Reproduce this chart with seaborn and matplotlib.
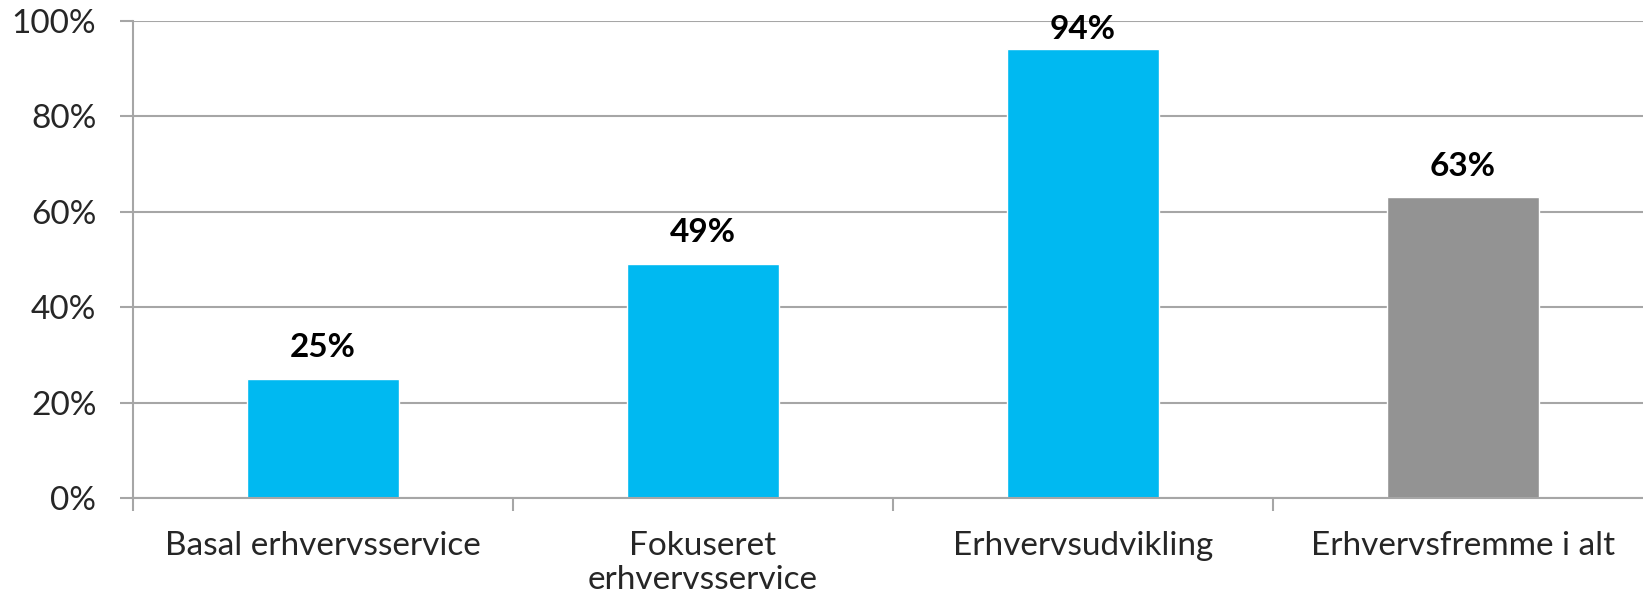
import numpy as np
import pandas as pd
import seaborn as sns
import matplotlib.pyplot as plt
from matplotlib.ticker import FixedLocator, PercentFormatter

sns.set_theme(style="white")
plt.rcParams["font.family"] = ["Lato", "DejaVu Sans"]

categories = ["Basal erhvervsservice", "Fokuseret\nerhvervsservice",
              "Erhvervsudvikling", "Erhvervsfremme i alt"]
shares = [0.25, 0.49, 0.94, 0.63]
bar_colors = ["#00B9F1", "#00B9F1", "#00B9F1", "#939393"]

df = pd.DataFrame({"category": categories, "share": shares})

fig = plt.figure(figsize=(16.43, 6.04), dpi=100)
ax = fig.add_axes([0.081, 0.1755, 0.925, 0.79])

sns.barplot(data=df, x="category", y="share", hue="category",
            palette=bar_colors, width=0.4, legend=False, ax=ax, saturation=1)

grid_col = "#A6A6A6"
ax.set_ylim(0, 1)
ax.set_xlim(-0.5, 3.5)
ax.yaxis.set_major_locator(FixedLocator(np.arange(0, 1.01, 0.2)))
ax.yaxis.set_major_formatter(PercentFormatter(1.0, decimals=0))
ax.grid(axis="y", color=grid_col, linewidth=1.5)
ax.set_axisbelow(True)

for s in ["top", "right"]:
    ax.spines[s].set_visible(False)
for s in ["left", "bottom"]:
    ax.spines[s].set_color(grid_col)
    ax.spines[s].set_linewidth(1.5)

ax.tick_params(axis="y", direction="out", length=9.4, width=1.5, color=grid_col,
               labelsize=24, pad=17, left=True)
ax.tick_params(axis="x", which="major", length=0, labelsize=24, pad=24)
ax.xaxis.set_minor_locator(FixedLocator([-0.5, 0.5, 1.5, 2.5, 3.5]))
ax.tick_params(axis="x", which="minor", direction="out", length=9.4, width=1.5,
               color=grid_col, bottom=True)
for lab in ax.get_xticklabels():
    lab.set_linespacing(1.15)
    lab.set_verticalalignment("top")

ax.set_xlabel("")
ax.set_ylabel("")

# data labels above bars, kept inside the plot area like Excel does
for i, v in enumerate(shares):
    ax.text(i, min(v + 0.035, 0.952), f"{v:.0%}", ha="center", va="bottom",
            fontsize=24, fontweight="bold", color="black")

plt.savefig("out.png", dpi=100)
